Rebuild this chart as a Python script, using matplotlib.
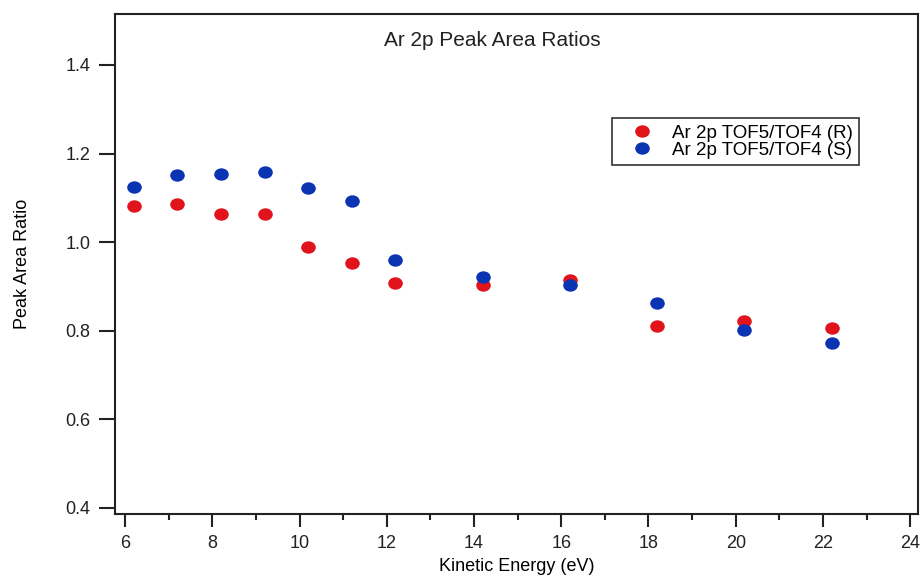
import matplotlib
matplotlib.use("Agg")
from matplotlib import pyplot as plt
from matplotlib.path import Path
from matplotlib.transforms import Affine2D
from matplotlib.ticker import MultipleLocator

plt.rcParams['font.family'] = ['Liberation Sans', 'DejaVu Sans']

# kinetic energy (eV) and ratios
energy = [6.2, 7.2, 8.2, 9.2, 10.2, 11.2, 12.2, 14.2, 16.2, 18.2, 20.2, 22.2]
ratio_r = [1.081, 1.086, 1.063, 1.063, 0.989, 0.953, 0.907, 0.903, 0.914, 0.810, 0.821, 0.806]
ratio_s = [1.124, 1.151, 1.154, 1.158, 1.122, 1.093, 0.959, 0.921, 0.903, 0.862, 0.801, 0.772]

label_r = 'Ar 2p TOF5/TOF4 (R)'
label_s = 'Ar 2p TOF5/TOF4 (S)'

# dots in the reference are a bit wider than tall
oval = Path.unit_circle().transformed(Affine2D().scale(1.0, 0.85))

fig, ax = plt.subplots(figsize=(9.23, 5.77), dpi=100)
fig.subplots_adjust(left=0.1246, right=0.9946, bottom=0.1092, top=0.9757)

ax.plot(energy, ratio_r, linestyle='none', marker=oval, color='#e0141a',
        markersize=10.5, markeredgewidth=0, label=label_r)
ax.plot(energy, ratio_s, linestyle='none', marker=oval, color='#0b34b3',
        markersize=10.5, markeredgewidth=0, label=label_s)

ax.set_xlim(5.77, 24.18)
ax.set_ylim(0.386, 1.515)
ax.xaxis.set_major_locator(MultipleLocator(2))
ax.xaxis.set_minor_locator(MultipleLocator(1))
ax.yaxis.set_major_locator(MultipleLocator(0.2))
ax.yaxis.set_major_formatter(plt.FuncFormatter(lambda v, p: f'{v:.1f}'))

ax.tick_params(axis='both', which='major', direction='out', width=1.5,
               labelsize=13, colors='#222222')
ax.tick_params(axis='y', which='major', length=11.5, pad=6)
ax.tick_params(axis='x', which='major', length=9, pad=6)
ax.tick_params(axis='x', which='minor', direction='out', length=4, width=1.5, colors='#222222')
for s in ax.spines.values():
    s.set_linewidth(1.5)
    s.set_color('#222222')

ax.set_xlabel('Kinetic Energy (eV)', fontsize=13, va='center')
ax.xaxis.set_label_coords(0.5, -0.106)
ax.set_ylabel('Peak Area Ratio', fontsize=13, va='center')
ax.yaxis.set_label_coords(-0.115, 0.5)
ax.text(0.4695, 0.948, 'Ar 2p Peak Area Ratios', transform=ax.transAxes,
        ha='center', va='center', fontsize=15, color='#222222')

leg = ax.legend(loc='upper left', bbox_to_anchor=(0.6185, 0.792), fontsize=13.5,
                frameon=True, fancybox=False, borderpad=0.35, handletextpad=0.35,
                labelspacing=0.0, handlelength=2.5, borderaxespad=0)
leg.get_frame().set_edgecolor('black')
leg.get_frame().set_linewidth(1.2)

fig.savefig('out.png', dpi=100)
